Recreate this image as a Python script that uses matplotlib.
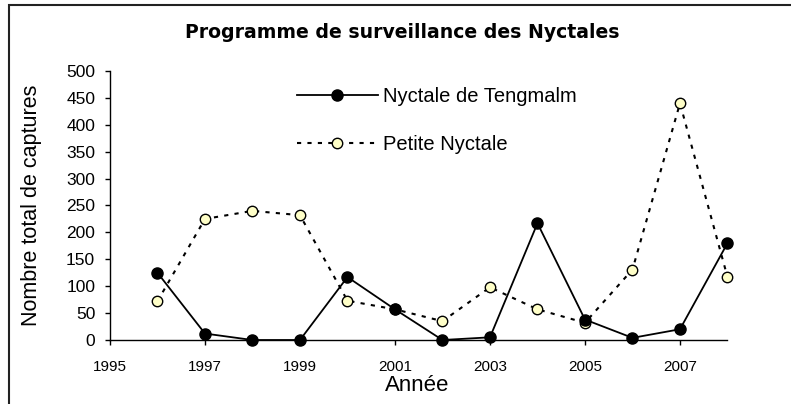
import matplotlib
matplotlib.use("Agg")
import matplotlib.pyplot as plt
from matplotlib.patches import Rectangle

plt.rcParams["font.family"] = ["Liberation Sans", "DejaVu Sans"]

years = [1996, 1997, 1998, 1999, 2000, 2001, 2002, 2003, 2004, 2005, 2006, 2007, 2008]
tengmalm = [125, 12, 0, 0, 117, 57, 0, 5, 217, 38, 4, 20, 180]
petite = [72, 225, 240, 232, 73, 57, 35, 98, 57, 32, 131, 440, 117]
xticks = [1995, 1997, 1999, 2001, 2003, 2005, 2007]
yticks = [0, 50, 100, 150, 200, 250, 300, 350, 400, 450, 500]

fig = plt.figure(figsize=(7.91, 4.04), dpi=100)
ax = fig.add_axes([0.139, 0.1584, 0.7807, 0.6659])

ax.plot(years, petite, linestyle=(0, (2, 3)), color="black", linewidth=1.5,
        marker="o", markersize=7.5, markerfacecolor="#ffffc8",
        markeredgecolor="black", markeredgewidth=1.0, label="Petite Nyctale",
        zorder=2, clip_on=False)
ax.plot(years, tengmalm, linestyle="-", color="black", linewidth=1.3,
        marker="o", markersize=8, markerfacecolor="black",
        markeredgecolor="black", label="Nyctale de Tengmalm", zorder=3, clip_on=False)

ax.set_xlim(1995, 2008)
ax.set_ylim(0, 500)
ax.set_xticks(xticks)
ax.set_yticks(yticks)
ax.tick_params(axis="both", direction="out", length=3.6, width=1)
ax.tick_params(axis="y", labelsize=12.5, pad=7)
ax.tick_params(axis="x", labelsize=11, pad=11)
for s in ["top", "right"]:
    ax.spines[s].set_visible(False)
ax.spines["left"].set_linewidth(1)
ax.spines["bottom"].set_linewidth(1)

ax.set_ylabel("Nombre total de captures", fontsize=15.5)
ax.yaxis.set_label_coords(-0.11, 0.5)
ax.set_xlabel("Année", fontsize=16)
ax.xaxis.set_label_coords(0.497, -0.13)

fig.text(0.508, 0.906, "Programme de surveillance des Nyctales", fontsize=13.6,
         fontweight="bold", ha="center", va="baseline", family=["DejaVu Sans"])

handles, labels = ax.get_legend_handles_labels()
ax.legend(handles[::-1], labels[::-1], loc="upper left", bbox_to_anchor=(0.303, 0.94),
          frameon=False, fontsize=14.5, handlelength=4.0, handletextpad=0.25,
          labelspacing=1.45, borderpad=0, borderaxespad=0)

fig.patches.append(Rectangle((0.0118, -0.1), 1.2, 1.088, transform=fig.transFigure,
                             fill=False, edgecolor="#222222", linewidth=1.5))

fig.savefig("out.png", dpi=100)
